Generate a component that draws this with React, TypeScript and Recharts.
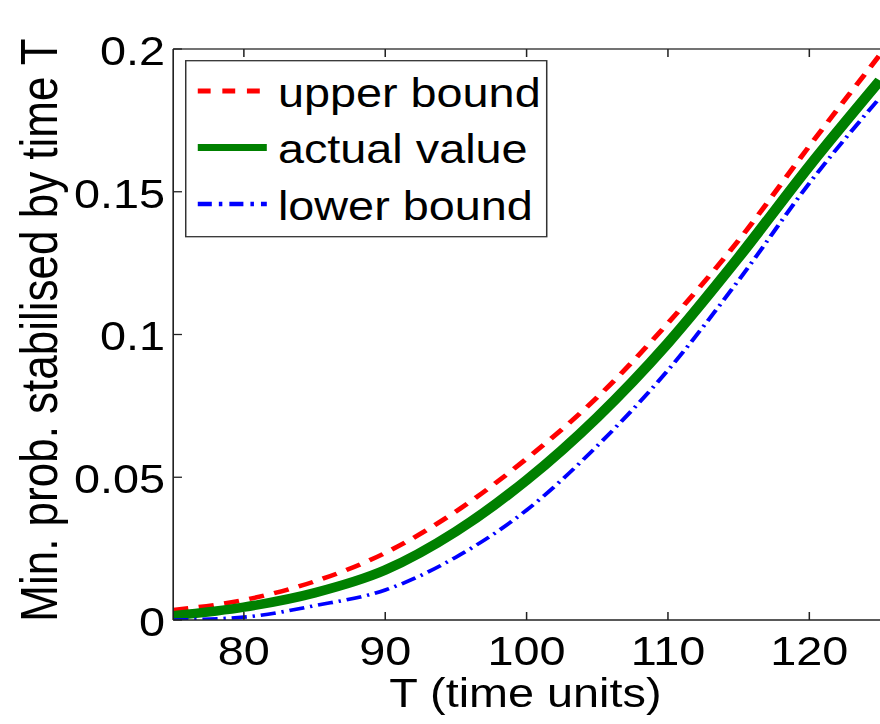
import React from 'react';
import { LineChart, Line, XAxis, YAxis, Legend } from 'recharts';

// ---- data ----
const timeUnits = [75, 80, 85, 90, 95, 100, 105, 110, 115, 120, 125];
const upperBound = [0.0035, 0.007, 0.0135, 0.0235, 0.038, 0.0565, 0.078, 0.104, 0.133, 0.166, 0.198];
const actualValue = [0.0015, 0.0045, 0.0095, 0.0175, 0.031, 0.049, 0.071, 0.097, 0.127, 0.159, 0.189];
const lowerBound = [0.0, 0.001, 0.005, 0.0105, 0.022, 0.0385, 0.061, 0.0875, 0.119, 0.153, 0.183];
const xTicks = [80, 90, 100, 110, 120];
const yTicks = [0, 0.05, 0.1, 0.15, 0.2];
const yTickLabels = ['0', '0.05', '0.1', '0.15', '0.2'];
const seriesKeys = ['upper', 'actual', 'lower'];
const seriesNames = ['upper bound', 'actual value', 'lower bound'];

const data = timeUnits.map((t, i) => ({
  t,
  upper: upperBound[i],
  actual: actualValue[i],
  lower: lowerBound[i],
}));

// ---- styling ----
const FONT = '"Liberation Sans", Arial, Helvetica, sans-serif';
const W = 752;
const H = 724;
const SX = 880 / W;
const AXIS = '#222';

const seriesStyle: Record<string, { color: string; width: number; legendWidth: number; dash?: string; legendDash?: string }> = {
  upper: { color: '#ff0000', width: 4.5, legendWidth: 5, dash: '13 9', legendDash: '11 10' },
  actual: { color: '#008000', width: 9.5, legendWidth: 7 },
  lower: { color: '#0000ff', width: 3.6, legendWidth: 4.5, dash: '13 5 2 5', legendDash: '12 6 3 6' },
};

const XTickBottom = (props: any) => {
  const { x, y, payload } = props;
  return (
    <g>
      <line x1={x} x2={x} y1={y} y2={y - 8} stroke={AXIS} strokeWidth={1.3} />
      <text x={x} y={y + 45} textAnchor="middle" fontSize={40} fontFamily={FONT} fill="#000">
        {payload.value}
      </text>
    </g>
  );
};

const XTickTop = (props: any) => {
  const { x, y } = props;
  return <line x1={x} x2={x} y1={y} y2={y + 8} stroke={AXIS} strokeWidth={1.3} />;
};

const YTickLeft = (props: any) => {
  const { x, y, payload } = props;
  const idx = yTicks.indexOf(payload.value);
  const label = idx >= 0 ? yTickLabels[idx] : String(payload.value);
  return (
    <g>
      <line x1={x} x2={x + 7.5} y1={y} y2={y} stroke={AXIS} strokeWidth={1.3} />
      <text x={x - 7} y={y + 16} textAnchor="end" fontSize={40} fontFamily={FONT} fill="#000">
        {label}
      </text>
    </g>
  );
};

const renderLegend = (props: any) => {
  const payload = [...(props.payload || [])].sort(
    (a: any, b: any) => seriesKeys.indexOf(String(a.dataKey)) - seriesKeys.indexOf(String(b.dataKey))
  );
  const bw = 308.5;
  const bh = 176;
  return (
    <svg width={bw + 2} height={bh + 2} style={{ display: 'block' }}>
      <rect x={0.7} y={0.7} width={bw} height={bh} fill="#fff" stroke="#333" strokeWidth={1.3} />
      {payload.map((p: any, i: number) => {
        const key = String(p.dataKey);
        const st = seriesStyle[key];
        const cy = 31 + i * 56.5;
        return (
          <g key={key}>
            <line x1={11} x2={70} y1={cy} y2={cy} stroke={st.color} strokeWidth={st.legendWidth} strokeDasharray={st.legendDash} />
            <text x={79.5} y={cy + 16} fontSize={40} fontFamily={FONT} fill="#000">
              {p.value}
            </text>
          </g>
        );
      })}
    </svg>
  );
};

export default function App() {
  return (
    <div style={{ position: 'absolute', left: 0, top: 0, width: 880, height: H, overflow: 'hidden', background: '#fff' }}>
      <div style={{ width: W, height: H, transform: `scaleX(${SX})`, transformOrigin: '0 0' }}>
        <LineChart width={W} height={H} data={data} margin={{ top: 0, right: 0, bottom: 0, left: 0 }}>
          <XAxis
            xAxisId="b"
            dataKey="t"
            type="number"
            domain={[75, 125]}
            ticks={xTicks}
            allowDataOverflow
            height={104}
            tickSize={0}
            tickMargin={0}
            tickLine={false}
            axisLine={{ stroke: AXIS, strokeWidth: 1.6 }}
            tick={<XTickBottom />}
            interval={0}
            label={{
              content: () => (
                <text x={449} y={707} textAnchor="middle" fontSize={40} fontFamily={FONT} fill="#000">
                  T (time units)
                </text>
              ),
            }}
          />
          <XAxis
            xAxisId="t"
            orientation="top"
            dataKey="t"
            type="number"
            domain={[75, 125]}
            ticks={xTicks}
            allowDataOverflow
            height={49}
            tickSize={0}
            tickMargin={0}
            tickLine={false}
            axisLine={{ stroke: '#444', strokeWidth: 1.6 }}
            tick={<XTickTop />}
            interval={0}
          />
          <YAxis
            yAxisId="l"
            type="number"
            domain={[0, 0.2]}
            ticks={yTicks}
            allowDataOverflow
            width={148}
            tickSize={0}
            tickMargin={0}
            tickLine={false}
            axisLine={{ stroke: AXIS, strokeWidth: 1.4 }}
            tick={<YTickLeft />}
            interval={0}
            label={{
              content: () => (
                <text
                  transform="translate(48.5,330) rotate(-90)"
                  textAnchor="middle"
                  fontSize={44}
                  fontFamily={FONT}
                  fill="#000"
                >
                  Min. prob. stabilised by time T
                </text>
              ),
            }}
          />
          <Legend
            layout="horizontal"
            verticalAlign="middle"
            align="center"
            content={renderLegend}
            wrapperStyle={{ left: 158, top: 60, width: 312, height: 180 }}
          />
          <Line
            xAxisId="b"
            yAxisId="l"
            dataKey="upper"
            name={seriesNames[0]}
            type="monotone"
            stroke={seriesStyle.upper.color}
            strokeWidth={seriesStyle.upper.width}
            strokeDasharray={seriesStyle.upper.dash}
            dot={false}
            activeDot={false}
            isAnimationActive={false}
          />
          <Line
            xAxisId="b"
            yAxisId="l"
            dataKey="actual"
            name={seriesNames[1]}
            type="monotone"
            stroke={seriesStyle.actual.color}
            strokeWidth={seriesStyle.actual.width}
            dot={false}
            activeDot={false}
            isAnimationActive={false}
          />
          <Line
            xAxisId="b"
            yAxisId="l"
            dataKey="lower"
            name={seriesNames[2]}
            type="monotone"
            stroke={seriesStyle.lower.color}
            strokeWidth={seriesStyle.lower.width}
            strokeDasharray={seriesStyle.lower.dash}
            dot={false}
            activeDot={false}
            isAnimationActive={false}
          />
        </LineChart>
      </div>
    </div>
  );
}
